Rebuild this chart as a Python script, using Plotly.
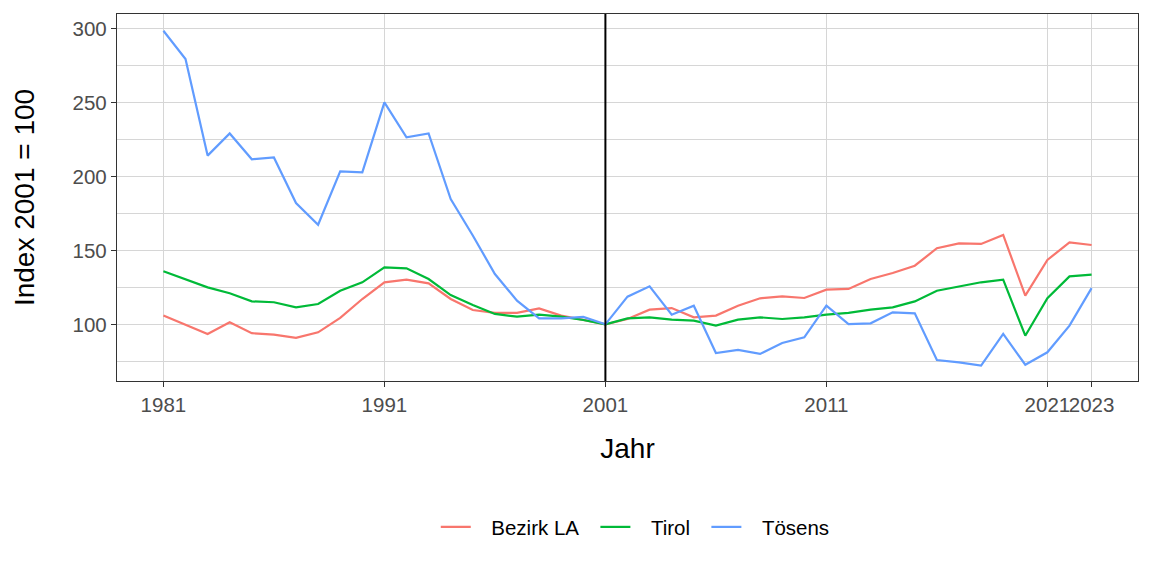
import plotly.graph_objects as go

years = list(range(1981, 2024))

bezirk_la = [105.9, 99.8, 93.5, 101.4, 94.0, 93.0, 90.8, 94.6, 104.3, 117.1,
             128.4, 130.2, 127.7, 117.1, 109.7, 107.7, 107.7, 110.8, 105.9, 103.0,
             100.0, 103.6, 109.9, 111.0, 104.7, 105.9, 112.6, 117.6, 118.9, 117.8,
             123.4, 123.9, 130.6, 134.7, 139.6, 151.4, 154.7, 154.3, 160.4, 119.4,
             143.5, 155.4, 153.6]

tirol = [135.8, 130.6, 125.0, 121.0, 115.5, 114.9, 111.5, 113.7, 122.7, 128.4,
         138.5, 137.8, 130.6, 119.8, 113.1, 107.0, 105.2, 106.5, 105.2, 102.9,
         100.0, 104.0, 104.7, 103.2, 102.5, 99.1, 103.2, 104.7, 103.6, 104.7,
         106.5, 107.7, 109.9, 111.5, 115.5, 122.7, 125.5, 128.4, 130.2, 92.3,
         117.6, 132.4, 133.6]

toesens = [298.4, 279.3, 214.0, 229.0, 211.5, 212.8, 182.0, 167.3, 203.4, 202.7,
           250.0, 226.4, 229.0, 184.7, 160.0, 134.0, 116.0, 104.0, 104.0, 105.0,
           100.0, 118.7, 125.7, 106.5, 112.6, 80.6, 82.7, 80.0, 87.4, 91.2,
           112.6, 100.2, 100.7, 108.1, 107.4, 75.9, 74.3, 72.1, 93.5, 72.7,
           81.1, 99.1, 124.5]

series_names = ["Bezirk LA", "Tirol", "Tösens"]
series_colors = ["#F8766D", "#00BA38", "#619CFF"]

x_ticks = [1981, 1991, 2001, 2011, 2021, 2023]
y_ticks = [100, 150, 200, 250, 300]
y_minor = [75, 125, 175, 225, 275]
ref_year = 2001

FONT = "Liberation Sans, Arial, sans-serif"
GRID = "#D6D6D6"
NB = "\u00a0"
TH = "\u2009"

fig = go.Figure()
for name, vals, col in zip(series_names, [bezirk_la, tirol, toesens], series_colors):
    fig.add_trace(go.Scatter(x=years, y=vals, mode="lines",
                             name=NB * 2 + TH + name + NB * 2,
                             line=dict(color=col, width=2.2)))

fig.add_vline(x=ref_year, line=dict(color="black", width=2))

# page body has an 8px margin; figure sized so the plot panel lands at 117..1138 x 14..381
fig.update_layout(
    width=1144, height=568,
    margin=dict(l=109, r=14, t=6, b=195, autoexpand=False),
    plot_bgcolor="white", paper_bgcolor="white",
    font=dict(family=FONT, color="black"),
    showlegend=True,
    legend=dict(orientation="h", x=0.513, xanchor="center", y=-0.398, yanchor="middle",
                font=dict(size=20.5, color="black"), itemwidth=30,
                traceorder="normal"),
)

fig.update_xaxes(
    range=[1978.9, 2025.1], automargin=False,
    tickmode="array", tickvals=x_ticks, ticktext=[str(v) for v in x_ticks],
    tickangle=0,
    showgrid=True, gridcolor=GRID, gridwidth=1,
    zeroline=False,
    showline=True, linecolor="#333333", linewidth=1.3, mirror=True,
    ticks="outside", ticklen=5, tickcolor="#333333", tickwidth=1.1,
    tickfont=dict(size=20.5, color="#4D4D4D", family=FONT),
    title=dict(text="Jahr", font=dict(size=28, color="black", family=FONT), standoff=23),
)

fig.update_yaxes(
    range=[61.7, 309.7], automargin=False,
    tickmode="array", tickvals=y_ticks, ticktext=[str(v) for v in y_ticks],
    showgrid=True, gridcolor=GRID, gridwidth=1,
    minor=dict(tickmode="array", tickvals=y_minor, showgrid=True, gridcolor=GRID,
               gridwidth=0.8, ticks=""),
    zeroline=False,
    showline=True, linecolor="#333333", linewidth=1.3, mirror=True,
    ticks="outside", ticklen=5, tickcolor="#333333", tickwidth=1.1,
    tickfont=dict(size=20.5, color="#4D4D4D", family=FONT),
    title=dict(text="Index 2001 = 100", font=dict(size=28, color="black", family=FONT), standoff=29),
)

fig.write_html("out.html")
